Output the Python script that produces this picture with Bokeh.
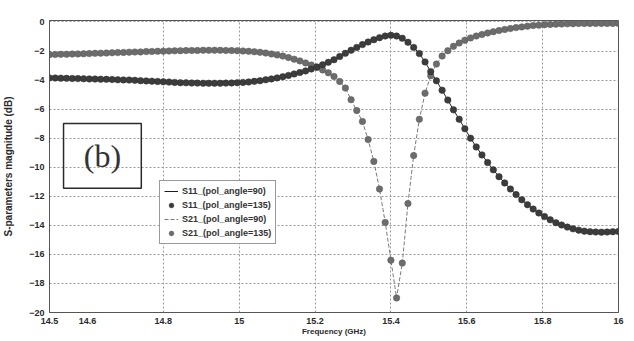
import numpy as np
from bokeh.plotting import figure
from bokeh.models import (Range1d, FixedTicker, NumeralTickFormatter, Legend, LegendItem,
                          BoxAnnotation, Label, ColumnDataSource)
from bokeh.embed import file_html
from bokeh.resources import INLINE

# Frequency sweep (GHz), 101 samples from 14.5 to 16
freq_ghz = np.round(np.linspace(14.5, 16.0, 101), 4)

s11_db = [
    -3.85, -3.86, -3.87, -3.88, -3.89, -3.90, -3.91, -3.92, -3.93, -3.94,
    -3.95, -3.96, -3.98, -3.99, -4.00, -4.02, -4.04, -4.06, -4.08, -4.10,
    -4.12, -4.14, -4.16, -4.18, -4.19, -4.20, -4.21, -4.22, -4.22, -4.22,
    -4.22, -4.21, -4.20, -4.18, -4.16, -4.13, -4.09, -4.04, -3.98, -3.92,
    -3.85, -3.77, -3.68, -3.58, -3.48, -3.37, -3.24, -3.10, -2.95, -2.78,
    -2.60, -2.38, -2.16, -1.95, -1.75, -1.56, -1.38, -1.22, -1.08, -0.97,
    -0.92, -0.97, -1.12, -1.40, -1.75, -2.18, -2.75, -3.42, -4.05, -4.70,
    -5.38, -6.05, -6.70, -7.35, -8.00, -8.60, -9.15, -9.68, -10.18, -10.65,
    -11.08, -11.50, -11.88, -12.24, -12.58, -12.88, -13.15, -13.40, -13.62, -13.82,
    -13.98, -14.12, -14.24, -14.33, -14.40, -14.44, -14.46, -14.47, -14.46, -14.44,
    -14.42,
]

s21_db = [
    -2.25, -2.24, -2.23, -2.22, -2.21, -2.20, -2.19, -2.18, -2.16, -2.15,
    -2.14, -2.12, -2.11, -2.10, -2.08, -2.07, -2.06, -2.04, -2.03, -2.02,
    -2.01, -2.00, -1.99, -1.98, -1.97, -1.96, -1.96, -1.95, -1.95, -1.95,
    -1.95, -1.96, -1.97, -1.98, -2.00, -2.02, -2.05, -2.09, -2.14, -2.20,
    -2.27, -2.35, -2.45, -2.56, -2.68, -2.82, -2.97, -3.13, -3.30, -3.50,
    -3.75, -4.10, -4.55, -5.35, -6.10, -6.85, -8.10, -9.60, -11.50, -13.80,
    -16.40, -19.00, -16.60, -12.50, -9.20, -6.70, -4.90, -3.70, -2.90, -2.35,
    -1.98, -1.68, -1.45, -1.26, -1.10, -0.97, -0.86, -0.76, -0.67, -0.59,
    -0.52, -0.45, -0.39, -0.34, -0.29, -0.25, -0.22, -0.19, -0.17, -0.15,
    -0.14, -0.13, -0.12, -0.11, -0.11, -0.10, -0.10, -0.10, -0.10, -0.10,
    -0.10,
]

x_ticks = [14.5, 14.6, 14.8, 15, 15.2, 15.4, 15.6, 15.8, 16]
x_grid = [14.8, 15, 15.2, 15.4, 15.6, 15.8]
y_ticks = [0, -2, -4, -6, -8, -10, -12, -14, -16, -18, -20]

series_labels = ["S11_(pol_angle=90)", "S11_(pol_angle=135)",
                 "S21_(pol_angle=90)", "S21_(pol_angle=135)"]

src = ColumnDataSource(dict(f=freq_ghz, s11=s11_db, s21=s21_db))

p = figure(width=634, height=341, output_backend="svg", toolbar_location=None,
           x_range=Range1d(14.5, 16.0), y_range=Range1d(-20, 0.1),
           min_border_left=48, min_border_right=16, min_border_top=20,
           min_border_bottom=29)
p.background_fill_color = "white"
p.border_fill_color = "white"
p.outline_line_color = "#555555"
p.outline_line_width = 1

FONT = "Liberation Sans"
for ax in (p.xaxis[0], p.yaxis[0]):
    ax.major_label_text_font = FONT
    ax.major_label_text_font_style = "bold"
    ax.major_label_text_font_size = "9px"
    ax.major_label_text_color = "#2a2a2a"
    ax.axis_label_text_font = FONT
    ax.axis_label_text_font_style = "bold"
    ax.axis_label_text_color = "#2a2a2a"
    ax.major_tick_out = 0
    ax.major_tick_in = 0
    ax.minor_tick_out = 0
    ax.minor_tick_in = 0
    ax.axis_line_color = "#555555"

p.xaxis.ticker = FixedTicker(ticks=x_ticks)
p.xaxis.formatter = NumeralTickFormatter(format="0.[0]")
p.xaxis.axis_label = "Frequency (GHz)"
p.xaxis.axis_label_text_font_size = "8px"
p.xaxis.major_label_standoff = 5
p.xaxis.axis_label_standoff = 0

p.yaxis.ticker = FixedTicker(ticks=y_ticks)
p.yaxis.axis_label = "S-parameters magnitude (dB)"
p.yaxis.axis_label_text_font_size = "10px"
p.yaxis.major_label_standoff = 5
p.yaxis.axis_label_standoff = 12

p.xgrid.ticker = FixedTicker(ticks=x_grid)
p.ygrid.ticker = FixedTicker(ticks=y_ticks)
for g in (p.xgrid[0], p.ygrid[0]):
    g.grid_line_color = "#9a9a9a"
    g.grid_line_dash = "2 2"
    g.grid_line_width = 1

# pol_angle = 90 (lines) and pol_angle = 135 (markers)
l11 = p.line("f", "s11", source=src, line_color="#1e1e1e", line_width=1)
l21 = p.line("f", "s21", source=src, line_color="#7a7a7a", line_width=1, line_dash="4 2")
m21 = p.scatter("f", "s21", source=src, size=6.5, marker="circle",
                fill_color="#6c6c6c", line_color="#5e5e5e", line_width=0.5)
m11 = p.scatter("f", "s11", source=src, size=6.5, marker="circle",
                fill_color="#3c3c3c", line_color="#303030", line_width=0.5)

legend = Legend(items=[
    LegendItem(label=series_labels[0], renderers=[l11]),
    LegendItem(label=series_labels[1], renderers=[m11]),
    LegendItem(label=series_labels[2], renderers=[l21]),
    LegendItem(label=series_labels[3], renderers=[m21]),
], location=(110, 68))
legend.label_text_font = FONT
legend.label_text_font_style = "bold"
legend.label_text_font_size = "9px"
legend.label_text_color = "#333333"
legend.label_standoff = 4
legend.glyph_width = 14
legend.glyph_height = 12
legend.label_height = 12
legend.spacing = 2
legend.padding = 4
legend.margin = 0
legend.border_line_color = "#333333"
legend.border_line_width = 1
legend.background_fill_color = "white"
legend.background_fill_alpha = 1
p.add_layout(legend, "center")

# "(b)" panel tag in its box
tag_box = BoxAnnotation(left=14.537, right=14.742, top=-6.99, bottom=-11.44,
                        fill_alpha=0, line_color="#2a2a2a", line_alpha=1,
                        line_width=1.5)
p.add_layout(tag_box)
tag = Label(x=14.6395, y=-9.25, text="(b)", text_font="Liberation Serif",
            text_font_size="32px", text_color="#333333",
            text_align="center", text_baseline="middle")
p.add_layout(tag)

open("out.html", "w").write(file_html(p, INLINE))
